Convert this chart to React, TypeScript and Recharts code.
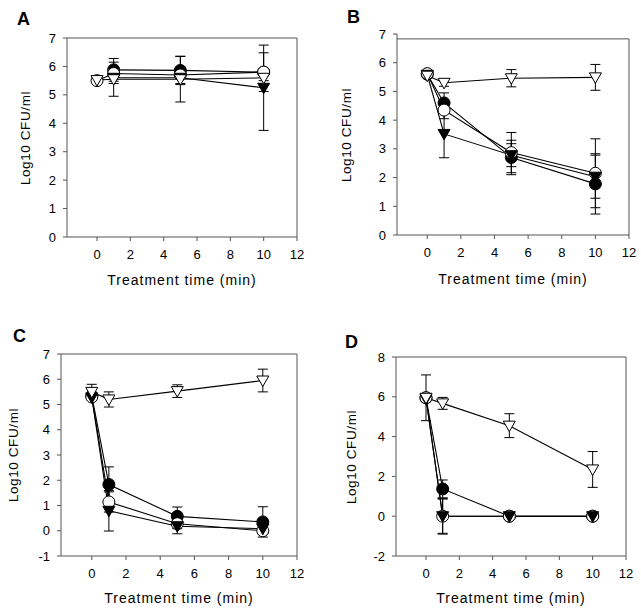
import React from "react";
import { LineChart, Line, XAxis, YAxis, ErrorBar, ReferenceLine } from "recharts";

const TIMES = [0, 1, 5, 10];
const X_TICKS = [0, 2, 4, 6, 8, 10, 12];

// A
const A_FC = [null, 5.88, 5.86, 5.8];
const A_FC_ERR = [0, 0.4, 0.5, 0.1];
const A_OC = [5.5, 5.75, 5.7, 5.8];
const A_OC_ERR = [0, 0.1, 0.1, 0.68];
const A_FT = [null, 5.6, 5.6, 5.25];
const A_FT_ERR = [0, 0.2, 0.2, 1.5];
const A_OT = [5.52, 5.55, 5.55, 5.6];
const A_OT_ERR = [0, 0.6, 0.8, 0.1];

// B
const B_FC = [5.6, 4.6, 2.7, 1.78];
const B_FC_ERR = [0.05, 0.35, 0.6, 1.05];
const B_OC = [5.62, 4.35, 2.87, 2.15];
const B_OC_ERR = [0.05, 0.3, 0.7, 1.2];
const B_FT = [5.58, 3.52, 2.78, 2.03];
const B_FT_ERR = [0.05, 0.83, 0.4, 0.75];
const B_OT = [5.55, 5.3, 5.46, 5.49];
const B_OT_ERR = [0.05, 0.12, 0.3, 0.45];

// C
const C_FC = [5.35, 1.83, 0.57, 0.35];
const C_FC_ERR = [0, 0.7, 0.37, 0.6];
const C_OC = [5.3, 1.14, 0.28, 0.0];
const C_OC_ERR = [0, 0.4, 0.2, 0.1];
const C_FT = [5.28, 0.79, 0.18, 0.08];
const C_FT_ERR = [0, 0.8, 0.3, 0.1];
const C_OT = [5.5, 5.2, 5.53, 5.95];
const C_OT_ERR = [0.3, 0.3, 0.25, 0.45];

// D
const D_FC = [5.95, 1.37, 0, 0];
const D_FC_ERR = [0, 0.45, 0, 0];
const D_OC = [5.95, 0, 0, 0];
const D_OC_ERR = [1.15, 0.9, 0, 0];
const D_FT = [5.9, 0, 0, 0];
const D_FT_ERR = [0, 0.86, 0, 0];
const D_OT = [5.95, 5.67, 4.55, 2.35];
const D_OT_ERR = [0.2, 0.3, 0.6, 0.9];

const FONT = '"Liberation Sans", Arial, sans-serif';
const AXIS = "#555";
const Y_W = 40;
const X_H = 30;

function rows(fc, fcE, oc, ocE, ft, ftE, ot, otE) {
  return TIMES.map((t, i) => ({
    t,
    fc: fc[i], fcErr: fcE[i],
    oc: oc[i], ocErr: ocE[i],
    ft: ft[i], ftErr: ftE[i],
    ot: ot[i], otErr: otE[i],
  }));
}

const circleDot = (filled: boolean) => (p: any) => {
  if (p.cx == null || p.cy == null || p.value == null) return <g key={p.key ?? p.index} />;
  return (
    <circle key={p.key ?? p.index} cx={p.cx} cy={p.cy} r={6}
      fill={filled ? "#000" : "#fff"} stroke="#000" strokeWidth={1} />
  );
};

const triDot = (filled: boolean) => (p: any) => {
  if (p.cx == null || p.cy == null || p.value == null) return <g key={p.key ?? p.index} />;
  const { cx, cy } = p;
  const pts = `${cx - 6},${cy - 4.5} ${cx + 6},${cy - 4.5} ${cx},${cy + 6}`;
  return (
    <polygon key={p.key ?? p.index} points={pts}
      fill={filled ? "#000" : "#fff"} stroke="#000" strokeWidth={1} />
  );
};

const SERIES = [
  { key: "fc", dot: circleDot(true) },
  { key: "oc", dot: circleDot(false) },
  { key: "ft", dot: triDot(true) },
  { key: "ot", dot: triDot(false) },
];

function Panel({ letter, left, top, width, height, plot, yDomain, yTicks, frameTop, data, yLabelX, xLabelBase, letterPos }) {
  const margin = {
    left: plot.l - left - Y_W,
    right: left + width - plot.r,
    top: plot.t - top,
    bottom: top + height - plot.b - X_H,
  };
  const cx = (plot.l + plot.r) / 2;
  const cy = (plot.t + plot.b) / 2;
  return (
    <>
      <div style={{ position: "absolute", left, top, width, height }}>
        <LineChart width={width} height={height} data={data} margin={margin}>
          <XAxis type="number" dataKey="t" domain={[-1.8, 12]} ticks={X_TICKS} interval={0}
            allowDataOverflow height={X_H} tickSize={4} tickMargin={9} stroke={AXIS}
            tick={{ fill: "#000", fontSize: 13, fontFamily: FONT }} />
          <YAxis type="number" domain={yDomain} ticks={yTicks} interval={0}
            allowDataOverflow width={Y_W} tickSize={4} tickMargin={7} stroke={AXIS}
            tick={{ fill: "#000", fontSize: 13, fontFamily: FONT }} />
          <ReferenceLine segment={[{ x: -1.8, y: frameTop }, { x: 12, y: frameTop }]} stroke={AXIS} />
          <ReferenceLine segment={[{ x: 12, y: yDomain[0] }, { x: 12, y: frameTop }]} stroke={AXIS} />
          {SERIES.map((s) => (
            <Line key={s.key} type="linear" dataKey={s.key} stroke="#000" strokeWidth={1.1}
              dot={s.dot} activeDot={false} isAnimationActive={false}>
              <ErrorBar dataKey={s.key + "Err"} width={5} stroke="#000" strokeWidth={1} direction="y" />
            </Line>
          ))}
        </LineChart>
      </div>
      <div style={{ position: "absolute", left: letterPos[0], top: letterPos[1], fontSize: 18,
        fontWeight: "bold", lineHeight: "18px" }}>{letter}</div>
      <div style={{ position: "absolute", left: yLabelX, top: cy, fontSize: 13.5, lineHeight: "14px",
        letterSpacing: "0.6px", whiteSpace: "nowrap",
        transform: "translate(-50%, -50%) rotate(-90deg)" }}>Log10 CFU/ml</div>
      <div style={{ position: "absolute", left: cx, top: xLabelBase - 12, fontSize: 14, lineHeight: "14px",
        letterSpacing: "1px", whiteSpace: "nowrap", transform: "translateX(-50%)" }}>Treatment time (min)</div>
    </>
  );
}

export default function App() {
  return (
    <div style={{ position: "absolute", left: 0, top: 0, width: 641, height: 611, background: "#fff",
      fontFamily: FONT, color: "#000" }}>
      <Panel letter="A" left={0} top={0} width={320} height={300}
        plot={{ l: 67, r: 297, t: 38, b: 237 }} yDomain={[0, 7]} yTicks={[0, 1, 2, 3, 4, 5, 6, 7]} frameTop={7}
        data={rows(A_FC, A_FC_ERR, A_OC, A_OC_ERR, A_FT, A_FT_ERR, A_OT, A_OT_ERR)}
        yLabelX={26} xLabelBase={285} letterPos={[17, 10]} />
      <Panel letter="B" left={320} top={0} width={321} height={300}
        plot={{ l: 397, r: 629, t: 34, b: 235 }} yDomain={[0, 7]} yTicks={[0, 1, 2, 3, 4, 5, 6, 7]} frameTop={6.83}
        data={rows(B_FC, B_FC_ERR, B_OC, B_OC_ERR, B_FT, B_FT_ERR, B_OT, B_OT_ERR)}
        yLabelX={347} xLabelBase={284} letterPos={[347, 8]} />
      <Panel letter="C" left={0} top={300} width={320} height={311}
        plot={{ l: 61, r: 297, t: 354, b: 556 }} yDomain={[-1, 7]} yTicks={[-1, 0, 1, 2, 3, 4, 5, 6, 7]} frameTop={7}
        data={rows(C_FC, C_FC_ERR, C_OC, C_OC_ERR, C_FT, C_FT_ERR, C_OT, C_OT_ERR)}
        yLabelX={14} xLabelBase={603} letterPos={[13, 327]} />
      <Panel letter="D" left={320} top={300} width={321} height={311}
        plot={{ l: 396, r: 626, t: 357, b: 556 }} yDomain={[-2, 8]} yTicks={[-2, 0, 2, 4, 6, 8]} frameTop={8}
        data={rows(D_FC, D_FC_ERR, D_OC, D_OC_ERR, D_FT, D_FT_ERR, D_OT, D_OT_ERR)}
        yLabelX={352} xLabelBase={603} letterPos={[345, 333]} />
    </div>
  );
}
